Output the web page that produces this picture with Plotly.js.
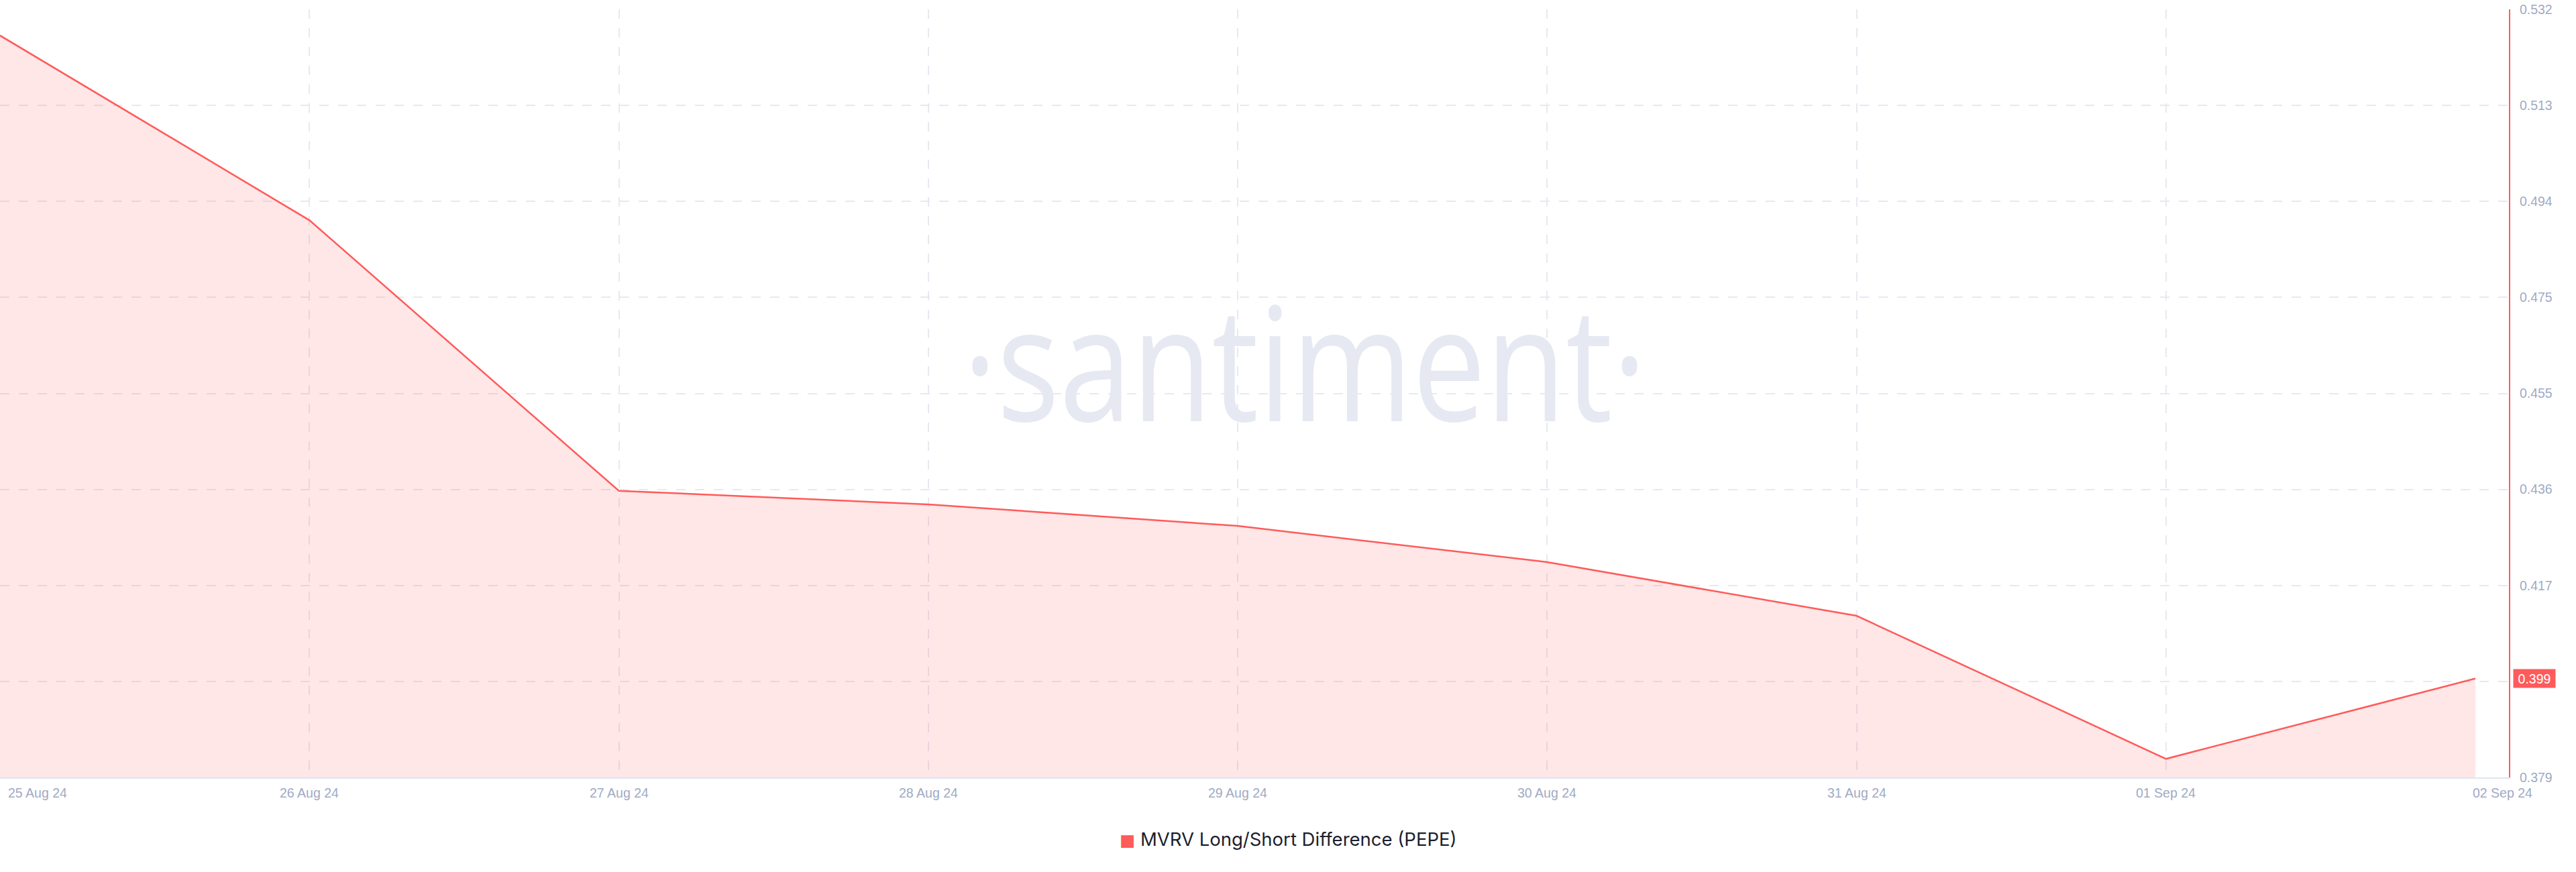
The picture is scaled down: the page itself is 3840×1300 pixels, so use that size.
<!DOCTYPE html>
<html>
<head>
<meta charset="utf-8">
<script src="https://cdn.plot.ly/plotly-3.0.1.min.js"></script>
<style>
  html, body { margin: 0; padding: 0; background: #ffffff; }
  #chart { width: 3840px; height: 1300px; }
</style>
</head>
<body>
<div id="chart"></div>
<script>
// ---- data ----
var dates = ['2024-08-25', '2024-08-26', '2024-08-27', '2024-08-28', '2024-08-29',
             '2024-08-30', '2024-08-31', '2024-09-01', '2024-09-02'];
var dateLabels = ['25 Aug 24', '26 Aug 24', '27 Aug 24', '28 Aug 24', '29 Aug 24',
                  '30 Aug 24', '31 Aug 24', '01 Sep 24', '02 Sep 24'];
var mvrvDiff = [0.5268, 0.4900, 0.4361, 0.4334, 0.4291, 0.4219, 0.4112, 0.3827, 0.3987];
var yTickVals = [0.379, 0.398125, 0.41725, 0.436375, 0.4555, 0.474625, 0.49375, 0.512875, 0.532];
var yTickText = ['0.379', '', '0.417', '0.436', '0.455', '0.475', '0.494', '0.513', '0.532'];
var seriesName = 'MVRV Long/Short Difference (PEPE)';
var watermark = '·santiment·';

// ---- style ----
var RED = '#ff5b5b';
var GRID = '#e6e9f2';
var TICK = '#a0aac4';
var FONT = 'Liberation Sans, Arial, Helvetica, sans-serif';

var trace = {
  x: dates,
  y: mvrvDiff,
  type: 'scatter',
  mode: 'lines',
  line: { color: RED, width: 2.5 },
  fill: 'tozeroy',
  fillcolor: 'rgba(255,91,91,0.15)',
  showlegend: false,
  hoverinfo: 'skip'
};

var annotations = [];

// watermark
annotations.push({
  text: watermark,
  xref: 'paper', yref: 'paper',
  x: 0.52, y: 0.5435,
  xanchor: 'center', yanchor: 'middle',
  showarrow: false,
  font: { family: 'Open Sans, sans-serif', size: 236, color: '#e6e9f2' }
});

// x date labels
dateLabels.forEach(function (lab, i) {
  var a = {
    text: lab,
    x: dates[i], xref: 'x',
    y: 0, yref: 'paper',
    yanchor: 'top', yshift: -10,
    xanchor: 'center',
    showarrow: false,
    font: { family: FONT, size: 19.5, color: TICK }
  };
  if (i === 0) { a.xanchor = 'left'; a.xshift = 10; }
  if (i === dateLabels.length - 1) { a.xshift = 40; }
  annotations.push(a);
});

// last-value tag
var lastVal = mvrvDiff[mvrvDiff.length - 1];
annotations.push({
  text: lastVal.toFixed(3),
  xref: 'paper', x: 1, xanchor: 'left', xshift: 6,
  yref: 'y', y: lastVal, yanchor: 'middle',
  showarrow: false,
  bgcolor: RED,
  borderpad: 0,
  width: 62, height: 27,
  align: 'center',
  font: { family: FONT, size: 19.5, color: '#ffffff' }
});

// legend
annotations.push({
  text: '<span style="color:' + RED + ';font-family:\'DejaVu Sans\';font-size:24.5px">■</span> ' + seriesName,
  xref: 'paper', x: 1920 / 3740, xanchor: 'center',
  yref: 'paper', y: 0, yanchor: 'middle', yshift: -92,
  showarrow: false,
  font: { family: 'Inter, Lato, sans-serif', size: 27.5, color: '#1c1f2e' }
});

var layout = {
  width: 3840,
  height: 1300,
  margin: { l: 0, r: 100, t: 14, b: 141 },
  paper_bgcolor: '#ffffff',
  plot_bgcolor: '#ffffff',
  showlegend: false,
  hovermode: false,
  xaxis: {
    type: 'date',
    range: ['2024-08-25 00:00', '2024-09-02 02:36'],
    tickvals: dates.slice(0, dates.length - 1),
    showticklabels: false,
    ticks: '',
    showgrid: true,
    gridcolor: GRID,
    gridwidth: 2,
    griddash: '14px,14px',
    showline: true,
    linecolor: '#e0e6ef',
    linewidth: 2,
    zeroline: false,
    fixedrange: true
  },
  yaxis: {
    side: 'right',
    range: [0.379, 0.532],
    tickvals: yTickVals,
    ticktext: yTickText,
    ticks: '',
    ticklabelstandoff: 10,
    tickfont: { family: FONT, size: 19.5, color: TICK },
    showgrid: true,
    gridcolor: GRID,
    gridwidth: 2,
    griddash: '14px,14px',
    showline: true,
    linecolor: RED,
    linewidth: 2,
    zeroline: false,
    fixedrange: true
  },
  annotations: annotations
};

var gd = document.getElementById('chart');
Plotly.newPlot(gd, [trace], layout, { displayModeBar: false, staticPlot: true }).then(function () {
  var anns = gd.querySelectorAll('.annotation');
  anns.forEach(function (g) {
    var t = g.querySelector('.annotation-text');
    if (t && t.textContent.indexOf('santiment') >= 0) {
      t.style.transformBox = 'fill-box';
      t.style.transformOrigin = 'center';
      t.style.transform = 'scaleX(0.825)';
      var sub = gd.querySelector('.cartesianlayer .subplot.xy');
      if (sub) { sub.insertBefore(g, sub.firstChild); }
    }
  });
});
</script>
</body>
</html>
